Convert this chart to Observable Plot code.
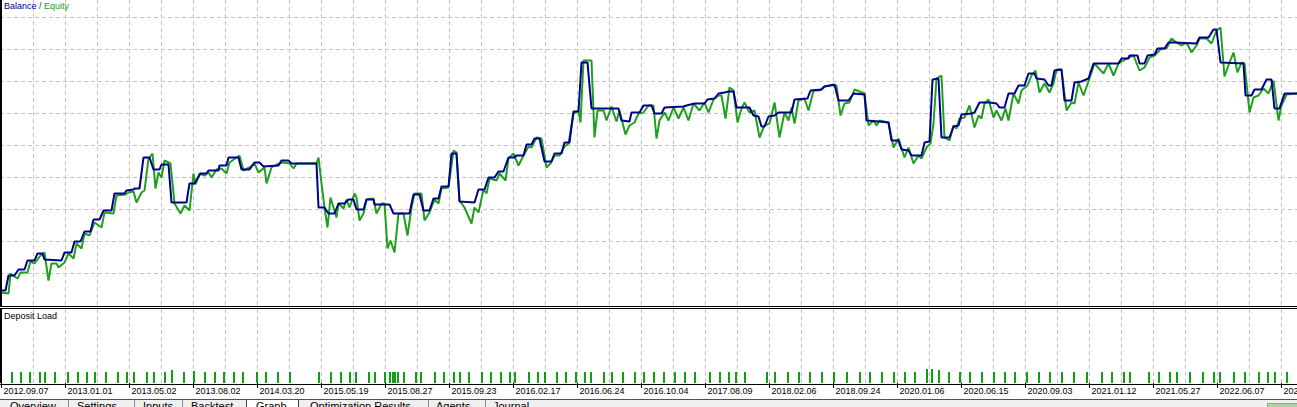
<!DOCTYPE html>
<html><head><meta charset="utf-8">
<script src="https://cdn.jsdelivr.net/npm/d3@7"></script>
<script src="https://cdn.jsdelivr.net/npm/@observablehq/plot@0.6"></script>
<style>
html,body{margin:0;padding:0;background:#fff;overflow:hidden}
#wrap{position:relative;width:1297px;height:407px;overflow:hidden;font-family:"Liberation Sans",Arial,sans-serif}
#main{position:absolute;left:0;top:0}
#load{position:absolute;left:0;top:306px}
.lbl{position:absolute;font-size:9px;line-height:9px;white-space:nowrap}
#tabs{position:absolute;left:0;top:399px;width:1297px;height:8px;border-top:1px solid #505050;background:#f0f0f0;overflow:hidden;font-size:11px;line-height:11px;color:#000}
#tabs span.t{position:absolute;top:1px;white-space:nowrap}
#tabs span.s{position:absolute;top:0;width:1px;height:8px;background:#8a8a8a}
</style></head><body>
<div id="wrap">
  <div id="main"></div>
  <div id="load"></div>
  <div class="lbl" style="left:4px;top:2px"><span style="color:#00008b">Balance</span><span style="color:#333"> / </span><span style="color:#1ea01e">Equity</span></div>
  <div class="lbl" style="left:4px;top:312px;color:#000">Deposit Load</div>
  <div id="tabs">
    <span class="t" style="left:10px">Overview</span>
    <span class="s" style="left:68px"></span>
    <span class="t" style="left:77px">Settings</span>
    <span class="s" style="left:134px"></span>
    <span class="t" style="left:143px">Inputs</span>
    <span class="s" style="left:182px"></span>
    <span class="t" style="left:191px">Backtest</span>
    <span class="s" style="left:246px;background:#404040"></span>
    <span style="position:absolute;left:247px;top:0;width:51px;height:8px;background:#fff"></span>
    <span class="t" style="left:256px">Graph</span>
    <span class="s" style="left:298px;background:#404040"></span>
    <span class="t" style="left:310px">Optimization Results</span>
    <span class="s" style="left:428px"></span>
    <span class="t" style="left:436px">Agents</span>
    <span class="s" style="left:485px"></span>
    <span class="t" style="left:493px">Journal</span>
    <span style="position:absolute;left:1267px;top:3px;width:30px;height:5px;background:#a6d9a0;border:1px solid #6fbf6a"></span>
  </div>
</div>
<script>
// ---- data (x = trade/event number, values in account currency) ----
const balanceTrade = [0,4,7,13,17,23,26,33,36,41,43,60,63,70,73,79,83,89,92,98,102,110,113,123,125,132,133,138,142,148,152,158,160,167,170,185,188,193,199,205,207,217,218,225,227,237,240,248,253,258,262,277,280,287,290,315,317,323,327,333,337,343,347,352,355,362,365,372,373,388,392,408,412,418,422,428,432,437,440,447,450,455,458,473,477,483,487,493,497,502,507,513,515,522,525,530,533,538,543,550,553,560,563,568,572,577,580,586,590,617,620,628,630,638,642,650,653,660,663,682,685,693,703,706,713,717,723,727,732,735,748,752,757,760,763,767,773,777,790,793,806,809,820,823,833,837,847,852,863,865,877,887,890,897,900,907,910,920,923,928,931,937,940,948,952,957,960,970,973,978,988,995,998,1003,1007,1013,1017,1023,1027,1033,1035,1043,1047,1050,1053,1060,1063,1070,1073,1080,1087,1092,1117,1120,1127,1128,1136,1138,1143,1146,1153,1156,1163,1167,1173,1195,1198,1207,1212,1215,1219,1242,1244,1250,1253,1260,1265,1270,1273,1278,1283,1296];
const balanceValue = [10000,10000,10750,10750,11050,11050,11500,11500,11850,11850,11550,11500,11900,11900,12450,12450,12950,12950,13550,13550,14000,14000,14850,14850,15000,15050,15100,15100,16650,16650,16050,16050,16300,16300,14400,14400,15350,15350,15850,15850,16000,16000,16250,16250,16650,16650,16050,16050,16400,16400,16200,16250,16500,16500,16350,16350,14150,14150,13850,13850,14350,14350,14550,14550,14050,14050,14550,14550,14300,14300,13850,13850,14800,14800,14000,14000,14600,14600,15200,15200,16850,16850,14450,14400,15050,15050,15650,15650,15950,15950,16650,16650,16750,16750,17300,17300,17600,17600,16450,16450,16850,16850,17400,17400,18950,18950,21400,21400,19100,19100,18500,18450,18900,18900,19250,19250,18850,18850,19150,19200,19250,19350,19350,19550,19600,19850,19900,19950,19950,19150,19150,18750,18700,18200,18200,18700,18750,18900,18900,19550,19600,20000,20050,20200,20300,19500,19500,19850,19800,18500,18450,18400,17500,17500,17050,17000,16750,16750,17400,17450,20550,20600,17650,17650,18200,18250,18800,18850,18900,19400,19400,19350,19150,19150,19850,19850,20250,20250,20850,20850,20600,20550,20250,20250,21000,21050,19500,19500,20400,20450,20600,21350,21350,21600,21600,21750,21750,21350,21350,21750,21800,22100,22100,22400,22400,22350,22650,22650,23050,23050,21400,21350,19750,19750,20050,20050,20550,20550,19100,19100,19850,19850];

const equityTrade = [0,7,9,13,16,19,26,29,33,39,43,47,50,55,57,63,67,72,75,80,83,88,93,100,103,112,115,124,127,132,135,140,143,147,151,154,157,160,163,169,173,179,183,188,192,194,198,203,207,210,215,220,225,228,238,242,248,253,257,263,265,270,277,282,288,292,295,315,317,320,323,326,329,332,335,337,342,345,348,353,355,358,362,365,372,375,380,383,386,389,393,397,402,406,410,413,420,423,428,433,437,440,447,452,455,458,463,470,473,477,482,485,488,495,498,504,507,512,517,522,527,530,535,540,545,549,553,558,563,567,572,577,579,582,590,593,596,602,605,610,615,618,624,628,633,637,642,647,652,655,658,663,667,672,677,682,687,692,698,703,707,712,717,720,724,728,732,736,740,743,748,753,758,763,768,773,778,783,787,790,793,797,803,807,812,818,823,830,835,839,843,848,853,863,867,872,875,878,887,892,897,903,907,912,917,920,925,929,932,935,940,943,948,952,955,958,963,968,973,977,980,983,987,992,995,1000,1004,1007,1012,1017,1020,1026,1030,1034,1038,1043,1048,1052,1055,1060,1065,1070,1073,1077,1082,1088,1093,1102,1107,1112,1117,1122,1127,1132,1138,1143,1148,1153,1160,1165,1170,1175,1180,1185,1190,1195,1198,1205,1210,1215,1219,1223,1228,1232,1236,1240,1243,1248,1252,1257,1262,1267,1272,1277,1280,1285,1296];
const equityValue = [9900,9850,10850,10700,10600,10900,10900,11450,11350,11750,11900,10500,11350,11350,11150,11400,11850,11600,12350,12100,12850,12750,13400,13150,13900,13850,14750,14800,14900,14950,14400,14900,15000,16600,16850,15100,15900,15650,16500,16350,14350,13850,14250,14000,15850,15300,15850,15750,15900,15650,16050,16100,15850,16400,16750,16000,16150,16350,15900,16150,15350,16150,16350,16400,16350,16100,16350,16350,16650,15350,14150,13150,14650,14150,13650,14350,14100,14550,14150,14850,14650,13500,13850,14550,14600,13850,14350,14350,12100,12500,11900,13850,13850,12750,14150,14850,14850,13500,13900,14550,14350,15100,15150,17000,16900,14500,14150,13350,14150,13900,15050,14850,15600,15500,15850,15500,16600,16850,16250,16750,17200,17150,17650,17600,16150,16350,16750,16750,17200,17350,18850,19000,18400,21500,21500,17650,19000,19000,18500,19200,18450,19000,17800,18250,18400,18850,18900,19250,19250,17600,18500,18900,18500,19150,18600,19150,18500,19350,19000,19400,18900,19550,19750,19750,18600,20150,20000,18400,19100,19400,18900,19000,17650,18250,18350,19400,17650,18900,18500,19150,18350,19500,19600,19000,20000,20000,20200,20250,20250,18750,19350,19400,20050,19850,18250,18500,18250,18500,18400,17150,17600,16650,17150,16350,16750,16600,17150,17350,18350,20600,20750,17650,17500,18250,18100,18600,18650,19250,18150,18750,18600,19350,19550,18650,19000,18500,19100,18500,19850,19350,20000,20250,20750,21000,19900,20350,19900,20350,21050,21050,19000,19400,19350,20400,19750,20600,21350,20850,21350,20750,21350,21500,21650,21750,21000,21150,21650,21750,22100,22100,22600,22400,22250,22400,21900,22250,22600,22600,22350,23000,23150,20700,21400,21900,20900,21400,21350,18900,19650,19750,20100,19850,20500,18500,19250,19800,19850];

const loadTrade = [10,19,28,38,43,53,66,76,85,93,104,116,125,132,145,152,163,170,182,192,203,213,222,232,241,255,264,276,288,317,329,339,348,354,367,373,383,388,391,393,396,402,414,419,433,442,452,458,467,480,489,499,508,513,527,536,543,555,564,574,583,589,602,610,621,633,642,652,662,673,683,693,708,718,727,734,743,765,773,786,797,808,820,832,845,858,868,880,892,903,913,925,930,937,947,958,968,980,992,1003,1013,1025,1037,1048,1060,1072,1085,1100,1110,1122,1128,1147,1157,1168,1175,1188,1201,1212,1218,1232,1243,1257,1266,1273,1285];
const loadValue = [14,14,14,14,14,14,14,14,14,14,14,14,14,15,14,14,15,17,14,16,14,14,15,14,14,14,14,14,14,14,14,14,14,14,14,14,14,15,15,15,15,14,14,14,14,14,14,14,14,14,14,14,14,14,14,14,14,15,14,14,14,14,14,14,14,14,14,14,14,14,14,14,14,14,14,14,15,14,14,14,14,14,14,14,14,14,14,14,14,14,14,18,19,17,14,14,14,14,14,14,14,14,14,14,14,14,14,14,14,14,14,14,14,14,14,14,14,14,14,14,14,14,14,14,14];

const tickTrades = [0,64,128,192,256,320,384,448,512,576,640,704,768,832,896,960,1024,1088,1152,1216,1280];
const tickLabels = ["2012.09.07","2013.01.01","2013.05.02","2013.08.02","2014.03.20","2015.05.19","2015.08.27","2015.09.23","2016.02.17","2016.06.24","2016.10.04","2017.08.09","2018.02.06","2018.09.24","2020.01.06","2020.06.15","2020.09.03","2021.01.12","2021.05.27","2022.06.07","2022.09.14"];

// ---- build tables ----
const balance = balanceTrade.map((t,i)=>({t, v: balanceValue[i]}));
const equity = equityTrade.map((t,i)=>({t, v: equityValue[i]}));
const load = loadTrade.map((t,i)=>({t, v: loadValue[i]}));
const ticks = tickTrades.map((t,i)=>({t, label: tickLabels[i]}));

const BLUE = "#00008c", GREEN = "#1ea01e", GRID = "#c4c4c4";
const xDomain = [-1, 1296];
const gridX = d3.range(32, 1297, 32);
const gridY = d3.range(10850, 23651, 1600);

const main = Plot.plot({
  width: 1297, height: 306, margin: 0,
  style: {background: "transparent", overflow: "visible"},
  x: {domain: xDomain, range: [0, 1297], axis: null},
  y: {domain: [9250, 24500], range: [305, 0], axis: null},
  marks: [
    Plot.ruleY(gridY, {stroke: GRID, strokeDasharray: "4,3", shapeRendering: "crispEdges"}),
    Plot.ruleX(gridX, {stroke: GRID, strokeDasharray: "4,3", shapeRendering: "crispEdges"}),
    Plot.line(equity, {x: "t", y: "v", stroke: GREEN, strokeWidth: 2, strokeLinejoin: "miter"}),
    Plot.line(balance, {x: "t", y: "v", stroke: BLUE, strokeWidth: 2, strokeLinejoin: "miter"}),
    Plot.ruleY([9250], {stroke: "#000", strokeWidth: 1, dy: 0.5, shapeRendering: "crispEdges"}),
    Plot.ruleX([-1], {stroke: "#000", strokeWidth: 3, shapeRendering: "crispEdges"})
  ]
});
document.getElementById("main").appendChild(main);

const dep = Plot.plot({
  width: 1297, height: 93, margin: 0,
  style: {background: "transparent", overflow: "visible"},
  x: {domain: xDomain, range: [0, 1297], axis: null},
  y: {domain: [0, 100], range: [77, 1.5], axis: null},
  marks: [
    Plot.ruleX(gridX, {y1: 0, y2: 100, stroke: GRID, strokeDasharray: "4,3", shapeRendering: "crispEdges"}),
    Plot.ruleX(load, {x: "t", y1: 0, y2: "v", stroke: "#10a010", strokeWidth: 2, shapeRendering: "crispEdges"}),
    Plot.ruleX(ticks, {x: "t", y1: 0, y2: -6, stroke: "#000", shapeRendering: "crispEdges"}),
    Plot.ruleY([0], {stroke: "#000", strokeWidth: 1, dy: 0.5, shapeRendering: "crispEdges"}),
    Plot.ruleY([100], {stroke: "#000", strokeWidth: 1, shapeRendering: "crispEdges"}),
    Plot.ruleX([-1], {y1: 0, y2: 100, stroke: "#000", strokeWidth: 3, shapeRendering: "crispEdges"}),
    Plot.text(ticks, {x: "t", y: 0, text: "label", textAnchor: "start", lineAnchor: "middle", dx: 2, dy: 8, fontSize: 9, fill: "#000", fontFamily: "Liberation Sans"})
  ]
});
document.getElementById("load").appendChild(dep);
</script>
</body></html>
